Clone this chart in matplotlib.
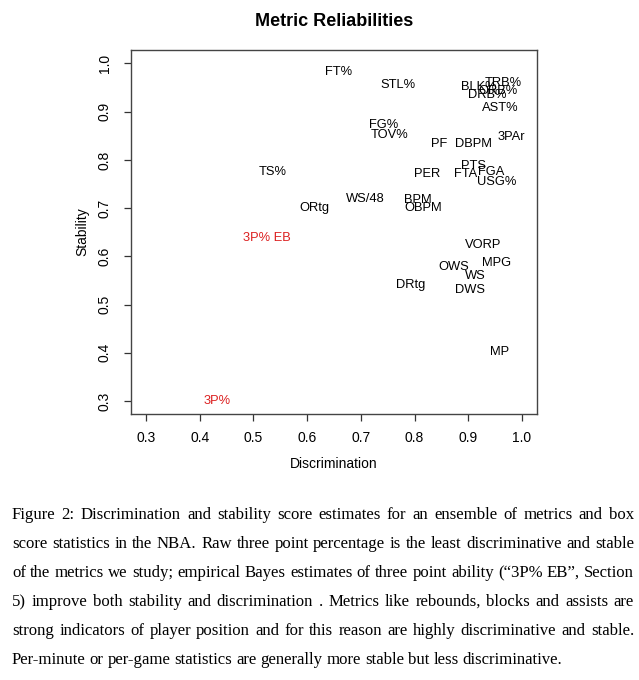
import matplotlib
matplotlib.use('Agg')
import matplotlib.pyplot as plt
from matplotlib import font_manager

# label positions (discrimination, stability)
metrics = ['FT%', 'STL%', 'BLK%', 'TRB%', 'ORB%', 'DRB%', 'AST%', 'FG%', 'TOV%',
           '3PAr', 'PF', 'DBPM', 'PTS', 'FTA', 'FGA', 'USG%', 'PER', 'TS%',
           'WS/48', 'BPM', 'OBPM', 'ORtg', '3P% EB', 'VORP', 'MPG', 'OWS', 'WS',
           'DRtg', 'DWS', 'MP', '3P%']
discrimination = [0.658, 0.769, 0.920, 0.965, 0.955, 0.936, 0.960, 0.743, 0.753,
                  0.980, 0.845, 0.909, 0.910, 0.895, 0.942, 0.953, 0.823, 0.535,
                  0.709, 0.806, 0.817, 0.613, 0.525, 0.928, 0.953, 0.873, 0.914,
                  0.793, 0.904, 0.958, 0.432]
stability = [0.982, 0.955, 0.952, 0.959, 0.942, 0.935, 0.908, 0.873, 0.851,
             0.848, 0.833, 0.833, 0.787, 0.771, 0.775, 0.755, 0.771, 0.775,
             0.719, 0.716, 0.701, 0.700, 0.638, 0.624, 0.587, 0.578, 0.559,
             0.540, 0.531, 0.401, 0.301]
highlight = ['3P% EB', '3P%']
ticks = [0.3, 0.4, 0.5, 0.6, 0.7, 0.8, 0.9, 1.0]

caption = [
    "Figure 2:  Discrimination and stability score estimates for an ensemble of metrics and box",
    "score statistics in the NBA. Raw three point percentage is the least discriminative and stable",
    "of the metrics we study; empirical Bayes estimates of three point ability (\u201c3P% EB\u201d, Section",
    "5) improve both stability and discrimination .  Metrics like rebounds, blocks and assists are",
    "strong indicators of player position and for this reason are highly discriminative and stable.",
    "Per-minute or per-game statistics are generally more stable but less discriminative.",
]

plt.rcParams['font.family'] = ['Liberation Sans', 'DejaVu Sans']
names = {f.name for f in font_manager.fontManager.ttflist}
lab_family = 'Liberation Sans Narrow' if 'Liberation Sans Narrow' in names else 'Liberation Sans'
lab_size = 10.8 if lab_family == 'Liberation Sans Narrow' else 9.3

W, H = 639, 680
fig = plt.figure(figsize=(W / 100, H / 100), dpi=100)
ax = fig.add_axes([131 / W, 1 - 414 / H, (537 - 131) / W, (414 - 50) / H])

for lab, x, y in zip(metrics, discrimination, stability):
    col = '#dc2020' if lab in highlight else 'black'
    ax.text(x, y, lab, ha='center', va='center', fontsize=lab_size, color=col,
            family=lab_family)

ax.set_xlim(0.272, 1.028)
ax.set_ylim(0.273, 1.028)
ax.set_xticks(ticks)
ax.set_yticks(ticks)
ax.set_xticklabels([f'{t:.1f}' for t in ticks], fontsize=10)
ax.set_yticklabels([f'{t:.1f}' for t in ticks], fontsize=10, rotation=90, va='center')
ax.tick_params(direction='out', length=5, width=0.9, colors='#333333', labelcolor='black', pad=7)
ax.tick_params(axis='y', pad=9)
for s in ax.spines.values():
    s.set_color('#444444')
    s.set_linewidth(1.0)

fig.text(334 / W, 1 - 21 / H, 'Metric Reliabilities', ha='center', va='center',
         fontsize=13, fontweight='bold')
fig.text(334 / W, 1 - 464 / H, 'Discrimination', ha='center', va='center', fontsize=10)
fig.text(82 / W, 1 - 232 / H, 'Stability', ha='center', va='center', fontsize=10, rotation=90)

# caption, justified line by line
left, right = 12, 634
line_y = [515, 544, 573, 602, 631, 660]
cap_font = dict(family='Liberation Serif', fontsize=12.1, va='center', ha='left')
rows = []
for line, y in zip(caption, line_y):
    words = line.split()
    objs = [fig.text(0, 1 - y / H, w, **cap_font) for w in words]
    rows.append(objs)
fig.canvas.draw()
r = fig.canvas.get_renderer()
for i, objs in enumerate(rows):
    widths = [o.get_window_extent(r).width for o in objs]
    if i < len(rows) - 1:
        gap = max((right - left - sum(widths)) / (len(objs) - 1), 2.0)
    else:
        gap = 4.0
    x = left
    for o, w in zip(objs, widths):
        o.set_x(x / W)
        x += w + gap

fig.savefig('out.png', dpi=100)
